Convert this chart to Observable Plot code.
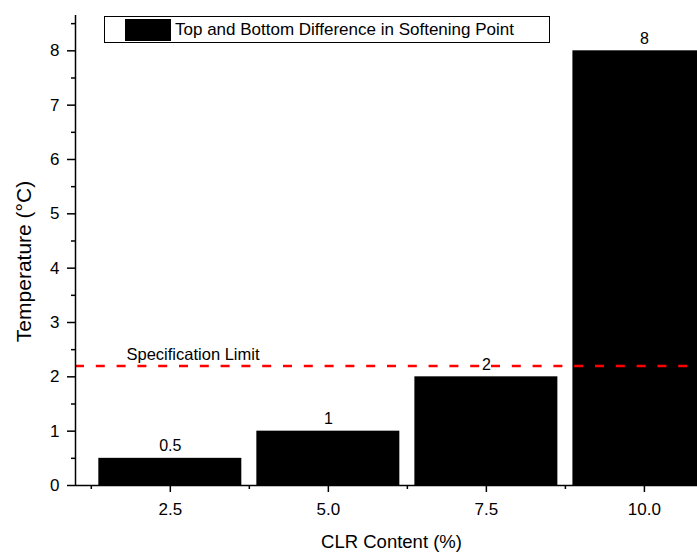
<!DOCTYPE html>
<html>
<head>
<meta charset="utf-8">
<script src="https://cdn.jsdelivr.net/npm/d3@7"></script>
<script src="https://cdn.jsdelivr.net/npm/@observablehq/plot@0.6"></script>
<style>
  html, body { margin: 0; padding: 0; background: #fff; overflow: hidden; }
  #wrap { position: relative; width: 697px; height: 556px; font-family: "Liberation Sans", Arial, sans-serif; }
  #legend { position: absolute; left: 104px; top: 16px; width: 444px; height: 25px; border: 1px solid #000; background: #fff; box-sizing: content-box; }
  #legend .sw { position: absolute; left: 20px; top: 2px; width: 46px; height: 22px; background: #000; }
  #legend .lbl { position: absolute; left: 70px; top: 0; line-height: 26px; font-size: 17px; color: #000; white-space: nowrap; }
</style>
</head>
<body>
<div id="wrap">
  <div id="chart"></div>
  <div id="legend"><div class="sw"></div><div class="lbl"></div></div>
</div>
<script>
const categories = [2.5, 5.0, 7.5, 10.0];
const values = [0.5, 1, 2, 8];
const specLimit = 2.2;
const seriesName = "Top and Bottom Difference in Softening Point";
const xTicks = [2.5, 5.0, 7.5, 10.0];
const xMinorTicks = [1.25, 3.75, 6.25, 8.75];
const yTicks = [0, 1, 2, 3, 4, 5, 6, 7, 8];
const yMinorTicks = [0.5, 1.5, 2.5, 3.5, 4.5, 5.5, 6.5, 7.5, 8.5];
const xTitle = "CLR Content (%)";
const yTitle = "Temperature (°C)";
const specLabel = "Specification Limit";

const data = categories.map((c, i) => ({c, v: values[i]}));
const halfW = 1.131;

document.querySelector("#legend .lbl").textContent = seriesName;

const chart = Plot.plot({
  width: 697,
  height: 556,
  marginLeft: 75,
  marginRight: 0,
  marginTop: 15,
  marginBottom: 71,
  style: {fontFamily: "'Liberation Sans', Arial, sans-serif", color: "#000", background: "#fff", overflow: "hidden"},
  x: {type: "linear", domain: [1, 10.84]},
  y: {domain: [0, 8.65]},
  marks: [
    Plot.rectY(data, {x1: d => d.c - halfW, x2: d => d.c + halfW, y1: 0, y2: "v", fill: "#000", clip: true}),
    Plot.text(data, {x: "c", y: "v", text: d => String(d.v), dy: -12, fontSize: 16, fill: "#000"}),
    Plot.ruleY([specLimit], {stroke: "#ff0000", strokeWidth: 2.5, strokeDasharray: "9,11.8"}),
    Plot.text([specLabel], {frameAnchor: "left", y: () => specLimit, dx: 51, dy: -11, textAnchor: "start", fontSize: 16.5, fill: "#000"}),
    Plot.axisX(xTicks, {tickSize: 7, tickPadding: 10, tickFormat: d3.format(".1f"), fontSize: 17, strokeWidth: 1.5, label: null, fill: "#000"}),
    Plot.axisX(xMinorTicks, {tickSize: 4, tickFormat: () => "", strokeWidth: 1.5, label: null}),
    Plot.axisY(yTicks, {tickSize: 8, tickPadding: 8, tickFormat: d3.format("d"), fontSize: 17, strokeWidth: 1.5, label: null, fill: "#000"}),
    Plot.axisY(yMinorTicks, {tickSize: 4, tickFormat: () => "", strokeWidth: 1.5, label: null}),
    Plot.ruleY([0], {stroke: "#000", strokeWidth: 1.5}),
    Plot.ruleX([1], {stroke: "#000", strokeWidth: 1.5}),
    Plot.text([xTitle], {frameAnchor: "bottom", textAnchor: "middle", dx: 5, dy: 62, fontSize: 18.5, fill: "#000"}),
    Plot.text([yTitle], {frameAnchor: "left", textAnchor: "middle", dx: -51, dy: 11, rotate: -90, fontSize: 21, fill: "#000"})
  ]
});
document.getElementById("chart").appendChild(chart);
</script>
</body>
</html>
